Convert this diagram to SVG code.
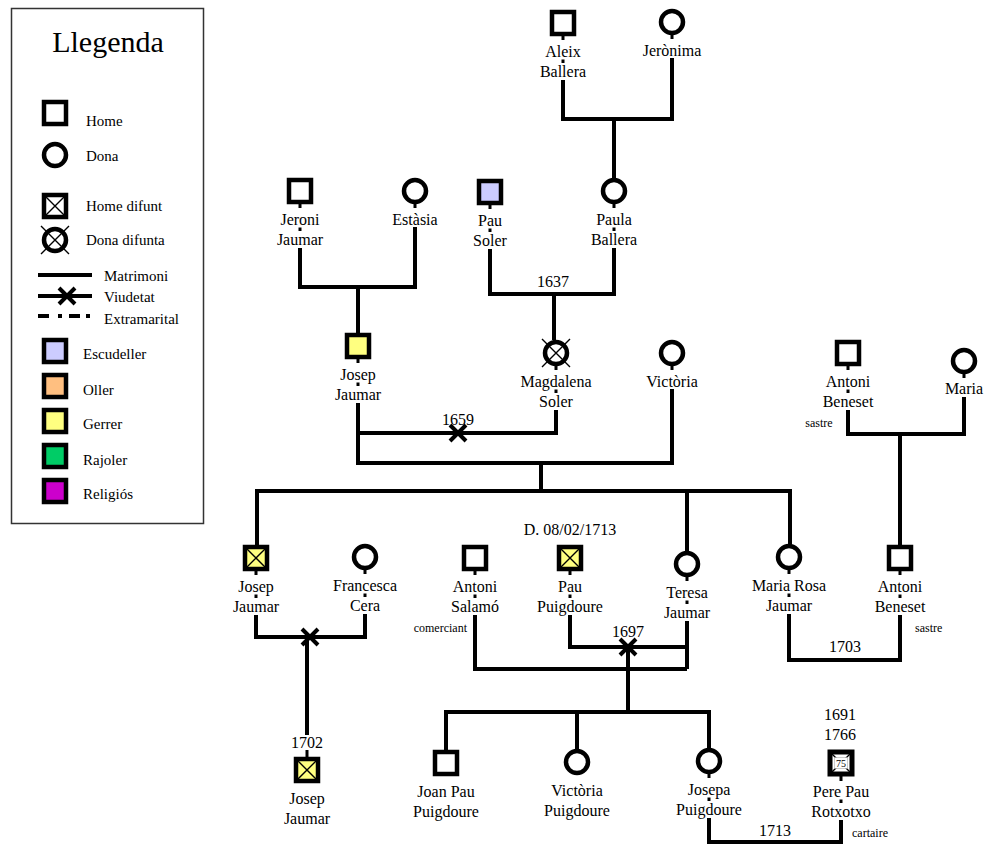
<svg xmlns="http://www.w3.org/2000/svg" width="986" height="844" viewBox="0 0 986 844">
<style>
.ln{stroke:#000;stroke-width:4;fill:none;stroke-linejoin:miter}
.tk{stroke:#000;stroke-width:3;fill:none}
.nd{stroke:#000;stroke-width:4.5;fill:#fff}
.ye{fill:#ffff80}
.bl{fill:#ccccff}
.or{fill:#ffbf80}
.gr{fill:#00cc66}
.mg{fill:#cc00cc}
.xx{stroke:#000;stroke-width:1.4;fill:none}
.wx{stroke:#000;stroke-width:4;fill:none}
.t{font-family:"Liberation Serif","Times New Roman",serif;font-size:16px;text-anchor:middle;fill:#000}
.s{font-family:"Liberation Serif","Times New Roman",serif;font-size:12px;fill:#000}
.lg{font-family:"Liberation Serif","Times New Roman",serif;font-size:15px;fill:#000}
</style>
<rect width="986" height="844" fill="#fff"/>
<g id="legend">
<rect x="11.5" y="8.5" width="192" height="515" fill="#fff" stroke="#333" stroke-width="1.5"/>
<text x="108" y="52" font-family="Liberation Serif, Times New Roman, serif" font-size="30" text-anchor="middle">Llegenda</text>
<rect class="nd" x="44" y="102" width="22" height="22"/><text class="lg" x="86" y="126">Home</text>
<circle class="nd" cx="55" cy="155" r="11"/><text class="lg" x="86" y="161">Dona</text>
<rect class="nd" x="44" y="195" width="22" height="22"/><path class="xx" d="M46,197 L64,215 M64,197 L46,215"/><text class="lg" x="86" y="211">Home difunt</text>
<circle class="nd" cx="55" cy="240" r="11"/><path class="xx" d="M41,226 L69,254 M69,226 L41,254"/><text class="lg" x="86" y="245">Dona difunta</text>
<path class="wx" d="M38,275 H92"/><text class="lg" x="104" y="281">Matrimoni</text>
<path class="wx" d="M38,296 H92 M59,288 L75,304 M75,288 L59,304"/><text class="lg" x="104" y="302">Viudetat</text>
<path class="wx" d="M38,316 H49 M58,316 H62 M69,316 H80 M86,316 H90" stroke-width="4.5"/><text class="lg" x="104" y="324">Extramarital</text>
<rect class="nd bl" x="44" y="340" width="22" height="22"/><text class="lg" x="83" y="359">Escudeller</text>
<rect class="nd or" x="44" y="375" width="22" height="22"/><text class="lg" x="83" y="395">Oller</text>
<rect class="nd ye" x="44" y="410" width="22" height="22"/><text class="lg" x="83" y="429">Gerrer</text>
<rect class="nd gr" x="44" y="445" width="22" height="22"/><text class="lg" x="83" y="465">Rajoler</text>
<rect class="nd mg" x="44" y="480" width="22" height="22"/><text class="lg" x="83" y="499">Religiós</text>
</g>
<g id="connectors">
<path class="ln" d="M563,80 V119 H672 V58"/>
<path class="tk" d="M563,35 V40 M563,59.5 V63 M672,34 V39"/>
<path class="ln" d="M614,119 V178"/>
<path class="ln" d="M300,248 V287 H415 V227"/>
<path class="tk" d="M300,203 V208 M300,227.5 V231 M415,203 V208"/>
<path class="ln" d="M358,287 V333"/>
<path class="ln" d="M490,249 V294 H614 V248"/>
<path class="tk" d="M490,204 V209 M490,228.5 V232 M614,203 V208 M614,227.5 V231"/>
<path class="ln" d="M554,294 V340"/>
<path class="ln" d="M358,403 V463 H672 V389"/>
<path class="tk" d="M358,358 V363 M358,382.5 V386 M672,365 V370"/>
<path class="ln" d="M556,410 V433 H358"/>
<path class="tk" d="M556,365 V370 M556,389.5 V393"/>
<path class="wx" d="M450,425 L466,441 M466,425 L450,441"/>
<path class="ln" d="M541,463 V491"/>
<path class="ln" d="M257,545 V491 H790 V544"/>
<path class="ln" d="M687,491 V551"/>
<path class="ln" d="M848,410 V434 H964 V397"/>
<path class="tk" d="M848,365 V370 M848,389.5 V393 M964,373 V378"/>
<path class="ln" d="M900,434 V545"/>
<path class="ln" d="M256,615 V637 H365 V614"/>
<path class="tk" d="M256,570 V575 M256,594.5 V598 M365,569 V574 M365,593.5 V597"/>
<path class="wx" d="M302,629 L318,645 M318,629 L302,645"/>
<path class="ln" d="M307,637 V735"/>
<path class="tk" d="M307,750 V757"/>
<path class="ln" d="M475,615 V669 H687"/>
<path class="tk" d="M475,570 V575 M475,594.5 V598"/>
<path class="ln" d="M570,615 V647 H687"/>
<path class="tk" d="M570,570 V575 M570,594.5 V598"/>
<path class="ln" d="M687,621 V669"/>
<path class="tk" d="M687,576 V581 M687,600.5 V604"/>
<path class="wx" d="M620,639 L636,655 M636,639 L620,655"/>
<path class="ln" d="M628,647 V712"/>
<path class="ln" d="M446,750 V712 H709 V748"/>
<path class="ln" d="M577,712 V749"/>
<path class="ln" d="M789,614 V660 H900 V615"/>
<path class="tk" d="M789,569 V574 M789,593.5 V597 M900,570 V575 M900,594.5 V598"/>
<path class="ln" d="M709,818 V842 H841 V820"/>
<path class="tk" d="M709,773 V778 M709,797.5 V801 M841,776 V781 M841,799.5 V803"/>
<text class="t" x="553" y="287">1637</text>
<text class="t" x="458" y="425">1659</text>
<text class="t" x="628" y="637">1697</text>
<text class="t" x="845" y="652">1703</text>
<text class="t" x="307" y="748">1702</text>
<text class="t" x="775" y="836">1713</text>
</g>
<g id="aleix-ballera"><rect class="nd" x="552" y="12" width="22" height="22"/><text class="t" x="563" y="57">Aleix</text><text class="t" x="563" y="77">Ballera</text></g>
<g id="jeronima"><circle class="nd" cx="672" cy="22" r="11"/><text class="t" x="672" y="56">Jerònima</text></g>
<g id="jeroni-jaumar"><rect class="nd" x="289" y="180" width="22" height="22"/><text class="t" x="300" y="225">Jeroni</text><text class="t" x="300" y="245">Jaumar</text></g>
<g id="estasia"><circle class="nd" cx="415" cy="191" r="11"/><text class="t" x="415" y="225">Estàsia</text></g>
<g id="pau-soler"><rect class="nd bl" x="479" y="181" width="22" height="22"/><text class="t" x="490" y="226">Pau</text><text class="t" x="490" y="246">Soler</text></g>
<g id="paula-ballera"><circle class="nd" cx="614" cy="191" r="11"/><text class="t" x="614" y="225">Paula</text><text class="t" x="614" y="245">Ballera</text></g>
<g id="josep-jaumar-1"><rect class="nd ye" x="347" y="335" width="22" height="22"/><text class="t" x="358" y="380">Josep</text><text class="t" x="358" y="400">Jaumar</text></g>
<g id="magdalena-soler"><circle class="nd" cx="556" cy="353" r="11"/><path class="xx" d="M542,339 L570,367 M570,339 L542,367"/><text class="t" x="556" y="387">Magdalena</text><text class="t" x="556" y="407">Soler</text></g>
<g id="victoria"><circle class="nd" cx="672" cy="353" r="11"/><text class="t" x="672" y="387">Victòria</text></g>
<g id="antoni-beneset-1"><rect class="nd" x="837" y="342" width="22" height="22"/><text class="t" x="848" y="387">Antoni</text><text class="t" x="848" y="407">Beneset</text><text class="s" x="819" y="427" text-anchor="middle">sastre</text></g>
<g id="maria"><circle class="nd" cx="964" cy="361" r="11"/><text class="t" x="964" y="394">Maria</text></g>
<g id="josep-jaumar-2"><rect class="nd ye" x="245" y="547" width="22" height="22"/><path class="xx" d="M247,549 L265,567 M265,549 L247,567"/><text class="t" x="256" y="592">Josep</text><text class="t" x="256" y="612">Jaumar</text></g>
<g id="francesca-cera"><circle class="nd" cx="365" cy="557" r="11"/><text class="t" x="365" y="591">Francesca</text><text class="t" x="365" y="611">Cera</text></g>
<g id="antoni-salamo"><rect class="nd" x="464" y="547" width="22" height="22"/><text class="t" x="475" y="592">Antoni</text><text class="t" x="475" y="612">Salamó</text><text class="s" x="467" y="632" text-anchor="end">comerciant</text></g>
<g id="pau-puigdoure"><text class="t" x="570" y="535">D. 08/02/1713</text><rect class="nd ye" x="559" y="547" width="22" height="22"/><path class="xx" d="M561,549 L579,567 M579,549 L561,567"/><text class="t" x="570" y="592">Pau</text><text class="t" x="570" y="612">Puigdoure</text></g>
<g id="teresa-jaumar"><circle class="nd" cx="687" cy="564" r="11"/><text class="t" x="687" y="598">Teresa</text><text class="t" x="687" y="618">Jaumar</text></g>
<g id="maria-rosa-jaumar"><circle class="nd" cx="789" cy="557" r="11"/><text class="t" x="789" y="591">Maria Rosa</text><text class="t" x="789" y="611">Jaumar</text></g>
<g id="antoni-beneset-2"><rect class="nd" x="889" y="547" width="22" height="22"/><text class="t" x="900" y="592">Antoni</text><text class="t" x="900" y="612">Beneset</text><text class="s" x="915" y="632">sastre</text></g>
<g id="josep-jaumar-3"><rect class="nd ye" x="296" y="759" width="22" height="22"/><path class="xx" d="M298,761 L316,779 M316,761 L298,779"/><text class="t" x="307" y="804">Josep</text><text class="t" x="307" y="824">Jaumar</text></g>
<g id="joan-pau-puigdoure"><rect class="nd" x="435" y="752" width="22" height="22"/><text class="t" x="446" y="797">Joan Pau</text><text class="t" x="446" y="817">Puigdoure</text></g>
<g id="victoria-puigdoure"><circle class="nd" cx="577" cy="762" r="11"/><text class="t" x="577" y="796">Victòria</text><text class="t" x="577" y="816">Puigdoure</text></g>
<g id="josepa-puigdoure"><circle class="nd" cx="709" cy="761" r="11"/><text class="t" x="709" y="795">Josepa</text><text class="t" x="709" y="815">Puigdoure</text></g>
<g id="pere-pau-rotxotxo"><text class="t" x="840" y="720">1691</text><text class="t" x="840" y="740">1766</text><rect x="830" y="752" width="22" height="22" fill="#fff" stroke="#000" stroke-width="5"/><path class="xx" d="M832,754 L850,772 M850,754 L832,772"/><rect x="834.5" y="757.5" width="13" height="11" fill="#fff" stroke="#999" stroke-width="0.5"/><text x="841" y="767" font-family="Liberation Serif, Times New Roman, serif" font-size="10" text-anchor="middle">75</text><text class="t" x="841" y="797">Pere Pau</text><text class="t" x="841" y="817">Rotxotxo</text><text class="s" x="852" y="837">cartaire</text></g>
</svg>
